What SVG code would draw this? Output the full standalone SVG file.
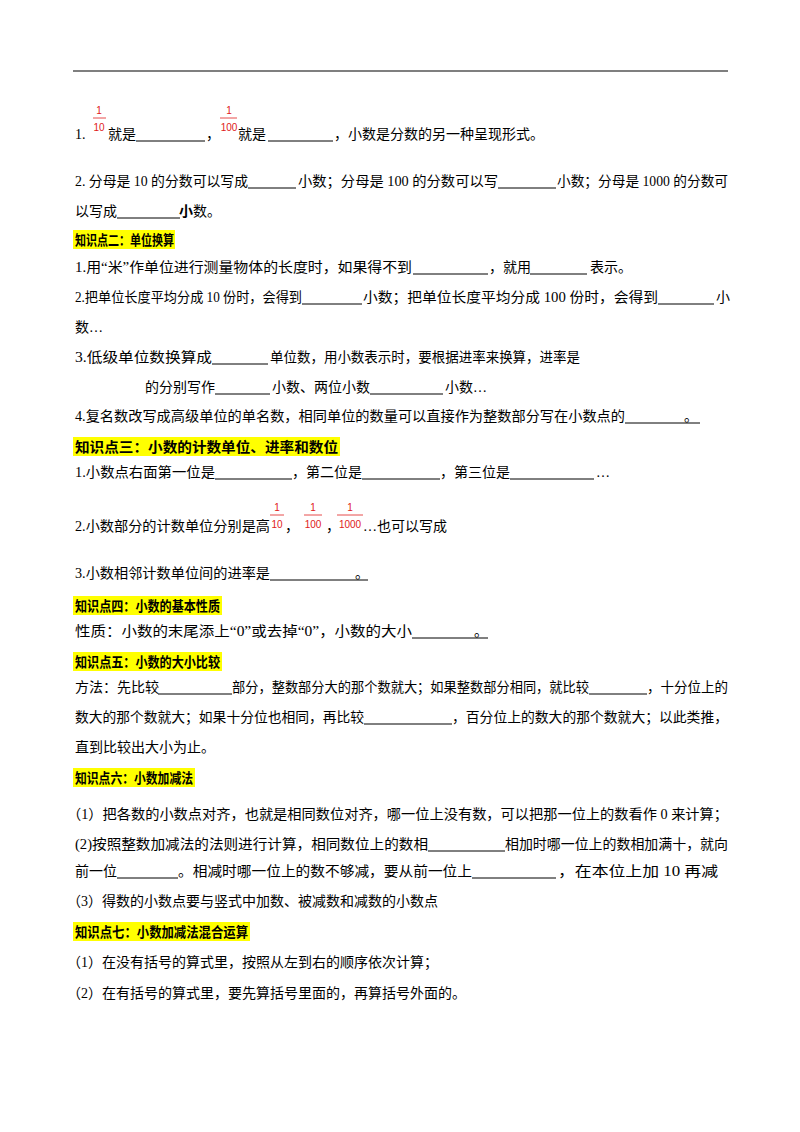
<svg xmlns="http://www.w3.org/2000/svg" width="800" height="1132" viewBox="0 0 800 1132">
<style>
text{font-family:"Liberation Serif","Noto Sans CJK SC",serif;font-size:14px;fill:#000}
.h{font-weight:bold}
.f{font-family:"Liberation Sans","Noto Sans CJK SC",sans-serif;font-size:10px;fill:#e02020;text-anchor:middle}
.u{stroke:#000;stroke-width:1}
.fl{stroke:#e02020;stroke-width:0.8}
.hl{fill:#ffff00}
</style>
<rect width="800" height="1132" fill="#fff"/>
<line x1="73" y1="71" x2="728" y2="71" stroke="#000" stroke-width="1.2"/>
<g id="lines">
<text x="75" y="139">1.</text>
<text class="f" x="99" y="114">1</text><line class="fl" x1="93" y1="118" x2="106" y2="118"/><text class="f" x="99" y="131">10</text>
<text x="108" y="139">就是</text><line class="u" x1="136" y1="141" x2="205" y2="141"/>
<text x="206" y="139">，</text>
<text class="f" x="229" y="114">1</text><line class="fl" x1="220" y1="118" x2="237" y2="118"/><text class="f" x="229" y="131">100</text>
<text x="238" y="139">就是</text><line class="u" x1="268" y1="141" x2="333" y2="141"/>
<text x="334" y="139">，小数是分数的另一种呈现形式。</text>

<text x="75" y="186" textLength="173" lengthAdjust="spacingAndGlyphs">2.  分母是 10 的分数可以写成</text><line class="u" x1="248" y1="188" x2="296" y2="188"/>
<text x="298" y="186" textLength="200" lengthAdjust="spacingAndGlyphs">小数；分母是 100 的分数可以写</text><line class="u" x1="498" y1="188" x2="556" y2="188"/>
<text x="557" y="186" textLength="171" lengthAdjust="spacingAndGlyphs">小数；分母是 1000 的分数可</text>
<text x="75" y="216">以写成</text><line class="u" x1="117" y1="218" x2="180" y2="218"/>
<text x="179" y="216" class="h">小</text><text x="193" y="216">数。</text>

<rect class="hl" x="73" y="230" width="102" height="19"/>
<text x="75" y="245" class="h" textLength="99" lengthAdjust="spacingAndGlyphs">知识点二：单位换算</text>
<text x="75" y="272" textLength="337" lengthAdjust="spacingAndGlyphs">1.用“米”作单位进行测量物体的长度时，如果得不到</text><line class="u" x1="413" y1="274" x2="488" y2="274"/>
<text x="489" y="272">，就用</text><line class="u" x1="530" y1="274" x2="587" y2="274"/>
<text x="590" y="272">表示。</text>
<text x="75" y="302" textLength="227" lengthAdjust="spacingAndGlyphs">2.把单位长度平均分成 10 份时，会得到</text><line class="u" x1="302" y1="304" x2="362" y2="304"/>
<text x="363" y="302" textLength="295" lengthAdjust="spacingAndGlyphs">小数；把单位长度平均分成 100 份时，会得到</text><line class="u" x1="658" y1="304" x2="714" y2="304"/>
<text x="716" y="302">小</text>
<text x="75" y="332">数…</text>
<text x="75" y="362" textLength="137" lengthAdjust="spacingAndGlyphs">3.低级单位数换算成</text><line class="u" x1="212" y1="364" x2="268" y2="364"/>
<text x="270" y="362" textLength="310" lengthAdjust="spacingAndGlyphs">单位数，用小数表示时，要根据进率来换算，进率是</text>
<text x="145" y="392">的分别写作</text><line class="u" x1="215" y1="394" x2="270" y2="394"/>
<text x="272" y="392">小数、两位小数</text><line class="u" x1="370" y1="394" x2="443" y2="394"/>
<text x="445" y="392">小数…</text>
<text x="75" y="421" textLength="550" lengthAdjust="spacingAndGlyphs">4.复名数改写成高级单位的单名数，相同单位的数量可以直接作为整数部分写在小数点的</text>
<line class="u" x1="625" y1="423" x2="700" y2="423"/><text x="684" y="421">。</text>

<rect class="hl" x="73" y="437" width="267" height="19"/>
<text x="75" y="452" class="h" textLength="263" lengthAdjust="spacingAndGlyphs">知识点三：小数的计数单位、进率和数位</text>
<text x="75" y="477" textLength="140" lengthAdjust="spacingAndGlyphs">1.小数点右面第一位是</text><line class="u" x1="215" y1="479" x2="292" y2="479"/>
<text x="292" y="477">，第二位是</text><line class="u" x1="362" y1="479" x2="440" y2="479"/>
<text x="440" y="477">，第三位是</text><line class="u" x1="510" y1="479" x2="594" y2="479"/>
<text x="596" y="477">…</text>
<text x="75" y="531" textLength="195" lengthAdjust="spacingAndGlyphs">2.小数部分的计数单位分别是高</text>
<text class="f" x="277" y="511">1</text><line class="fl" x1="270" y1="515" x2="284" y2="515"/><text class="f" x="277" y="528">10</text>
<text x="285" y="531">，</text>
<text class="f" x="313" y="511">1</text><line class="fl" x1="304" y1="515" x2="322" y2="515"/><text class="f" x="313" y="528">100</text>
<text x="326" y="531">，</text>
<text class="f" x="350" y="511">1</text><line class="fl" x1="337" y1="515" x2="363" y2="515"/><text class="f" x="350" y="528">1000</text>
<text x="363" y="531">…也可以写成</text>
<text x="75" y="578" textLength="195" lengthAdjust="spacingAndGlyphs">3.小数相邻计数单位间的进率是</text>
<line class="u" x1="270" y1="580" x2="368" y2="580"/><text x="355" y="578">。</text>

<rect class="hl" x="73" y="596" width="149" height="19"/>
<text x="75" y="611" class="h" textLength="145" lengthAdjust="spacingAndGlyphs">知识点四：小数的基本性质</text>
<text x="75" y="636" textLength="337" lengthAdjust="spacingAndGlyphs">性质：小数的末尾添上“0”或去掉“0”，小数的大小</text>
<line class="u" x1="412" y1="638" x2="488" y2="638"/><text x="474" y="636">。</text>

<rect class="hl" x="73" y="652" width="149" height="19"/>
<text x="75" y="667" class="h" textLength="145" lengthAdjust="spacingAndGlyphs">知识点五：小数的大小比较</text>
<text x="75" y="692">方法：先比较</text><line class="u" x1="158" y1="694" x2="232" y2="694"/>
<text x="232" y="692" textLength="357" lengthAdjust="spacingAndGlyphs">部分，整数部分大的那个数就大；如果整数部分相同，就比较</text><line class="u" x1="589" y1="694" x2="647" y2="694"/>
<text x="647" y="692" textLength="81" lengthAdjust="spacingAndGlyphs">，十分位上的</text>
<text x="75" y="722" textLength="289" lengthAdjust="spacingAndGlyphs">数大的那个数就大；如果十分位也相同，再比较</text><line class="u" x1="364" y1="724" x2="452" y2="724"/>
<text x="452" y="722" textLength="276" lengthAdjust="spacingAndGlyphs">，百分位上的数大的那个数就大；以此类推，</text>
<text x="75" y="752">直到比较出大小为止。</text>

<rect class="hl" x="73" y="768" width="122" height="19"/>
<text x="75" y="783" class="h" textLength="118" lengthAdjust="spacingAndGlyphs">知识点六：小数加减法</text>
<text x="67" y="819" textLength="661" lengthAdjust="spacingAndGlyphs">（1）把各数的小数点对齐，也就是相同数位对齐，哪一位上没有数，可以把那一位上的数看作 0 来计算；</text>
<text x="75" y="849" textLength="353" lengthAdjust="spacingAndGlyphs">(2)按照整数加减法的法则进行计算，相同数位上的数相</text><line class="u" x1="428" y1="851" x2="505" y2="851"/>
<text x="505" y="849" textLength="223" lengthAdjust="spacingAndGlyphs">相加时哪一位上的数相加满十，就向</text>
<text x="75" y="876">前一位</text><line class="u" x1="117" y1="878" x2="178" y2="878"/>
<text x="178" y="876" textLength="294" lengthAdjust="spacingAndGlyphs">。相减时哪一位上的数不够减，要从前一位上</text><line class="u" x1="472" y1="878" x2="556" y2="878"/>
<text x="558" y="876" textLength="160" lengthAdjust="spacingAndGlyphs">，在本位上加 10 再减</text>
<text x="67" y="906">（3）得数的小数点要与竖式中加数、被减数和减数的小数点</text>

<rect class="hl" x="73" y="922" width="177" height="19"/>
<text x="75" y="937" class="h" textLength="173" lengthAdjust="spacingAndGlyphs">知识点七：小数加减法混合运算</text>
<text x="67" y="967">（1）在没有括号的算式里，按照从左到右的顺序依次计算；</text>
<text x="67" y="998">（2）在有括号的算式里，要先算括号里面的，再算括号外面的。</text>
</g>
</svg>
